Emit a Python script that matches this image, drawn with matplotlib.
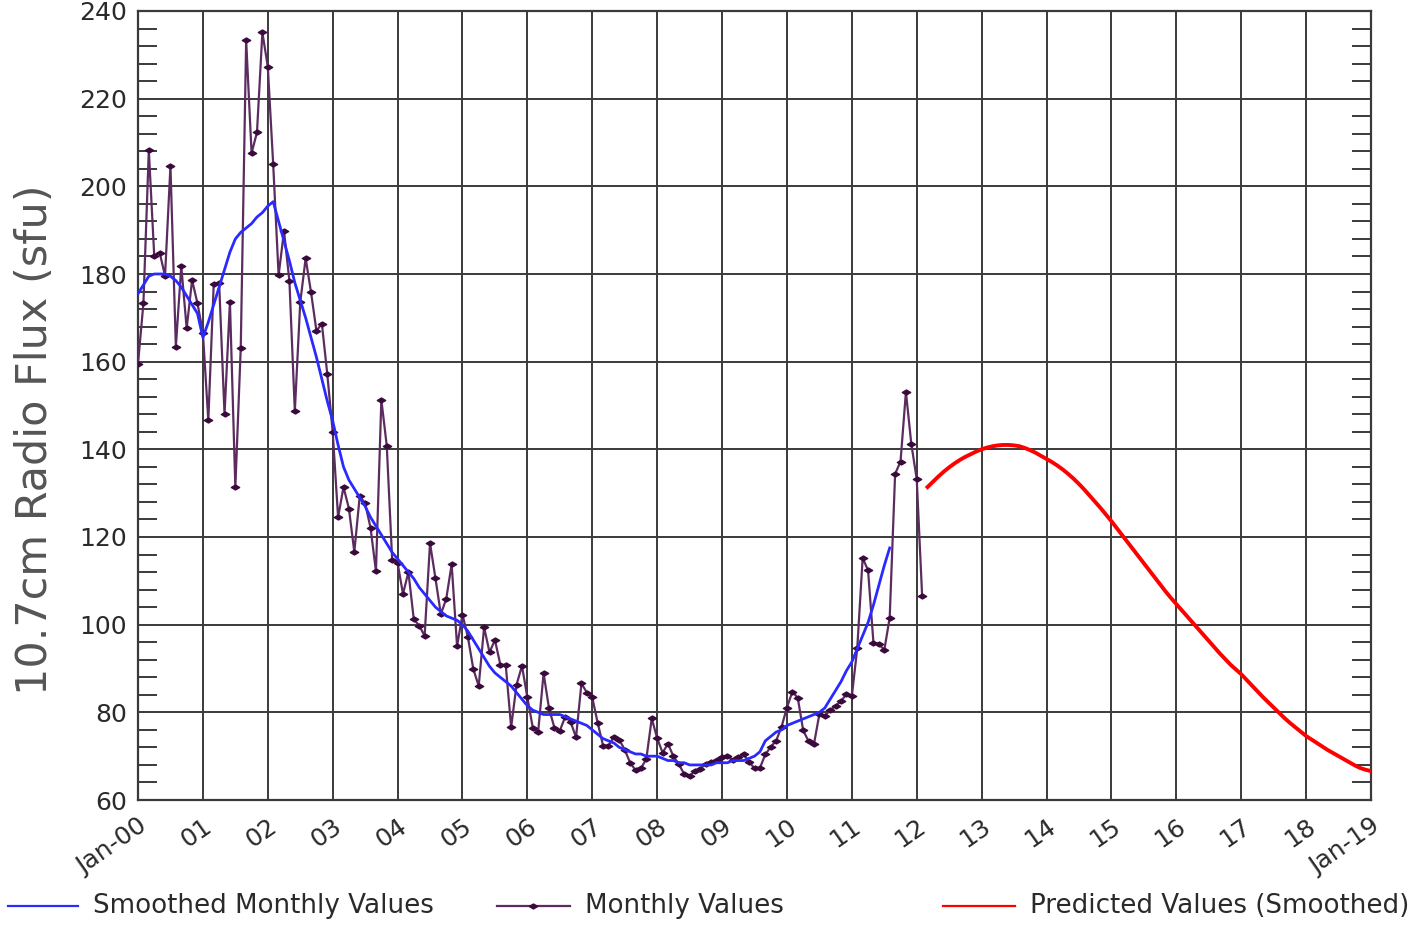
#!/usr/bin/env python

import matplotlib
matplotlib.use("Agg")
import matplotlib.pyplot as plt
from matplotlib.lines import Line2D
from matplotlib.path import Path
import numpy as np

# monthly observed F10.7, Jan 2000 .. Feb 2012
monthly_values = [
    159.5, 173.3, 208.2, 184.2, 184.9, 179.6, 204.6, 163.4, 181.8, 167.6, 178.6, 173.3,
    166.6, 146.6, 177.7, 178.0, 148.0, 173.6, 131.3, 163.2, 233.3, 207.6, 212.3, 235.1,
    227.3, 205.0, 179.7, 189.8, 178.4, 148.7, 173.5, 183.6, 175.8, 167.0, 168.7, 157.2,
    144.0, 124.5, 131.4, 126.5, 116.6, 129.3, 127.7, 122.1, 112.2, 151.3, 140.8, 114.8,
    114.1, 107.0, 112.0, 101.2, 99.8, 97.4, 118.6, 110.6, 102.4, 105.9, 113.8, 95.1,
    102.3, 97.2, 89.9, 86.0, 99.4, 93.7, 96.5, 90.9, 90.8, 76.6, 86.3, 90.6,
    83.4, 76.5, 75.6, 88.9, 80.9, 76.5, 75.8, 79.0, 77.8, 74.3, 86.6, 84.5,
    83.4, 77.6, 72.4, 72.4, 74.4, 73.7, 71.5, 68.5, 66.8, 67.2, 69.4, 78.6,
    74.1, 70.8, 72.8, 70.0, 68.2, 65.9, 65.5, 66.6, 67.1, 68.3, 68.6, 69.2,
    69.8, 70.0, 69.2, 69.7, 70.5, 68.6, 67.3, 67.3, 70.4, 72.1, 73.5, 76.7,
    81.1, 84.7, 83.3, 75.9, 73.4, 72.8, 79.6, 79.2, 80.5, 81.5, 82.5, 84.2,
    83.7, 94.6, 115.2, 112.4, 95.8, 95.6, 94.2, 101.6, 134.4, 137.2, 153.1, 141.2,
    133.2, 106.5,
]

# 13-month smoothed, Jan 2000 .. Aug 2011
smoothed_values = [
    175.5, 177.5, 179.5, 180.0, 180.0, 180.0, 179.5, 178.5, 177.0, 175.0, 173.0, 171.0,
    165.5, 169.0, 173.0, 177.0, 181.0, 185.0, 188.0, 189.5, 190.5, 191.5, 193.0, 194.0,
    195.5, 196.5, 192.0, 187.5, 183.0, 178.0, 174.0, 170.0, 165.5, 161.0, 156.0, 151.0,
    146.5, 141.0, 136.0, 133.0, 131.0, 129.0, 127.0, 124.5, 122.5, 120.5, 118.5, 116.5,
    115.0, 113.5, 112.0, 110.5, 108.5, 107.0, 105.5, 104.0, 103.0, 102.0, 101.5, 101.0,
    100.0, 98.5, 96.5, 94.5, 92.5, 90.5, 89.0, 88.0, 87.0, 86.0, 84.5, 83.0,
    81.5, 80.5, 80.0, 79.5, 79.5, 79.5, 79.5, 79.0, 78.5, 78.0, 77.5, 77.0,
    76.0, 75.0, 74.0, 73.5, 73.0, 72.0, 71.5, 71.0, 70.5, 70.5, 70.0, 70.0,
    70.0, 69.5, 69.0, 69.0, 68.5, 68.5, 68.0, 68.0, 68.0, 68.0, 68.0, 68.5,
    68.5, 68.5, 69.0, 69.0, 69.0, 69.5, 70.0, 71.0, 73.5, 74.5, 75.5, 76.0,
    77.0, 77.5, 78.0, 78.5, 79.0, 79.5, 80.0, 81.0, 83.0, 85.0, 87.0, 89.5,
    91.5, 94.5, 97.5, 100.5, 104.5, 109.0, 113.5, 117.5,
]

# predicted smoothed values, Mar 2012 .. Jan 2019
predicted_values = [
    131.4, 132.6, 133.8, 134.9, 135.9, 136.8, 137.6, 138.3, 138.9, 139.5,
    140.0, 140.4, 140.7, 140.9, 141.0, 141.0, 140.9, 140.7, 140.3, 139.8, 139.2, 138.5,
    137.8, 137.1, 136.3, 135.4, 134.4, 133.3, 132.1, 130.8, 129.4, 128.0, 126.6, 125.1,
    123.6, 122.0, 120.4, 118.8, 117.2, 115.6, 114.0, 112.4, 110.8, 109.2, 107.6, 106.1,
    104.7, 103.3, 101.9, 100.5, 99.1, 97.7, 96.3, 94.9, 93.5, 92.2, 90.9, 89.8,
    88.7, 87.4, 86.1, 84.8, 83.5, 82.3, 81.1, 79.9, 78.7, 77.6, 76.6, 75.6,
    74.6, 73.8, 73.0, 72.2, 71.4, 70.7, 70.0, 69.3, 68.6, 67.9, 67.3, 66.9,
    66.6,
]

year_labels = ["Jan-00"] + [f"{y:02d}" for y in range(1, 19)] + ["Jan-19"]

monthly_start = 2000.0
smoothed_start = 2000.0
predicted_start = 2012 + 2 / 12

GRID = "#3a3a3a"
TXT = "#2a2a2a"
PURPLE = "#5c2c60"
PURPLE_DARK = "#3a0a3c"
BLUE = "#2a2aff"
RED = "#ff0000"

# flattened diamond marker
diamond = Path([(-1, 0), (0, 0.6), (1, 0), (0, -0.6), (-1, 0)],
               [Path.MOVETO, Path.LINETO, Path.LINETO, Path.LINETO, Path.CLOSEPOLY])


def month_axis(start, n):
    return start + np.arange(n) / 12.0


def main():
    plt.rcParams['font.family'] = ['DejaVu Sans']
    fig = plt.figure(figsize=(14.25, 9.25), dpi=100)
    ax = fig.add_axes([138 / 1425, 1 - 800 / 925, (1371 - 138) / 1425, (800 - 11) / 925])

    xm = month_axis(monthly_start, len(monthly_values))
    xs = month_axis(smoothed_start, len(smoothed_values))
    xp = month_axis(predicted_start, len(predicted_values))

    ax.plot(xm, monthly_values, color=PURPLE, lw=1.6, marker=diamond, ms=6,
            mfc=PURPLE_DARK, mec=PURPLE_DARK, zorder=3)
    ax.plot(xs, smoothed_values, color=BLUE, lw=2.0, zorder=4)
    ax.plot(xp, predicted_values, color=RED, lw=2.8, zorder=4)

    ax.set_xlim(2000, 2019)
    ax.set_ylim(60, 240)
    ax.set_xticks(np.arange(2000, 2020))
    ax.set_xticklabels(year_labels, rotation=35, ha='right', va='top',
                       rotation_mode='anchor', fontsize=18, color=TXT)
    ax.set_yticks(np.arange(60, 241, 20))
    ax.set_yticks(np.arange(60, 241, 4), minor=True)
    ax.tick_params(axis='y', labelsize=18, labelcolor=TXT, length=0, pad=8)
    ax.tick_params(axis='x', length=0, pad=10)
    ax.tick_params(axis='y', which='minor', direction='in', left=True, right=True,
                   length=14, width=1.4, color=GRID)
    ax.grid(True, which='major', color=GRID, lw=1.4)
    for s in ax.spines.values():
        s.set_color(GRID)
        s.set_linewidth(1.6)
    ax.set_axisbelow(True)

    fig.text(35 / 1425, 1 - 440 / 925, "10.7cm Radio Flux (sfu)", rotation=90,
             ha='center', va='center', fontsize=31, color="#555555")

    # legend row drawn in figure pixels
    ly = 1 - 906 / 925
    def px(x):
        return x / 1425
    fs = 18.8
    fig.add_artist(Line2D([px(8), px(78)], [ly, ly], color=BLUE, lw=1.6))
    fig.text(px(93), ly, "Smoothed Monthly Values", fontsize=fs, color=TXT, va='center')
    fig.add_artist(Line2D([px(497), px(570)], [ly, ly], color=PURPLE, lw=1.6))
    fig.add_artist(Line2D([px(533)], [ly], marker=diamond, ms=6, color=PURPLE_DARK, lw=0))
    fig.text(px(585), ly, "Monthly Values", fontsize=fs, color=TXT, va='center')
    fig.add_artist(Line2D([px(943), px(1015)], [ly, ly], color=RED, lw=1.6))
    fig.text(px(1030), ly, "Predicted Values (Smoothed)", fontsize=fs, color=TXT, va='center')

    fig.savefig("out.png", dpi=100)


if __name__ == '__main__':
    main()
